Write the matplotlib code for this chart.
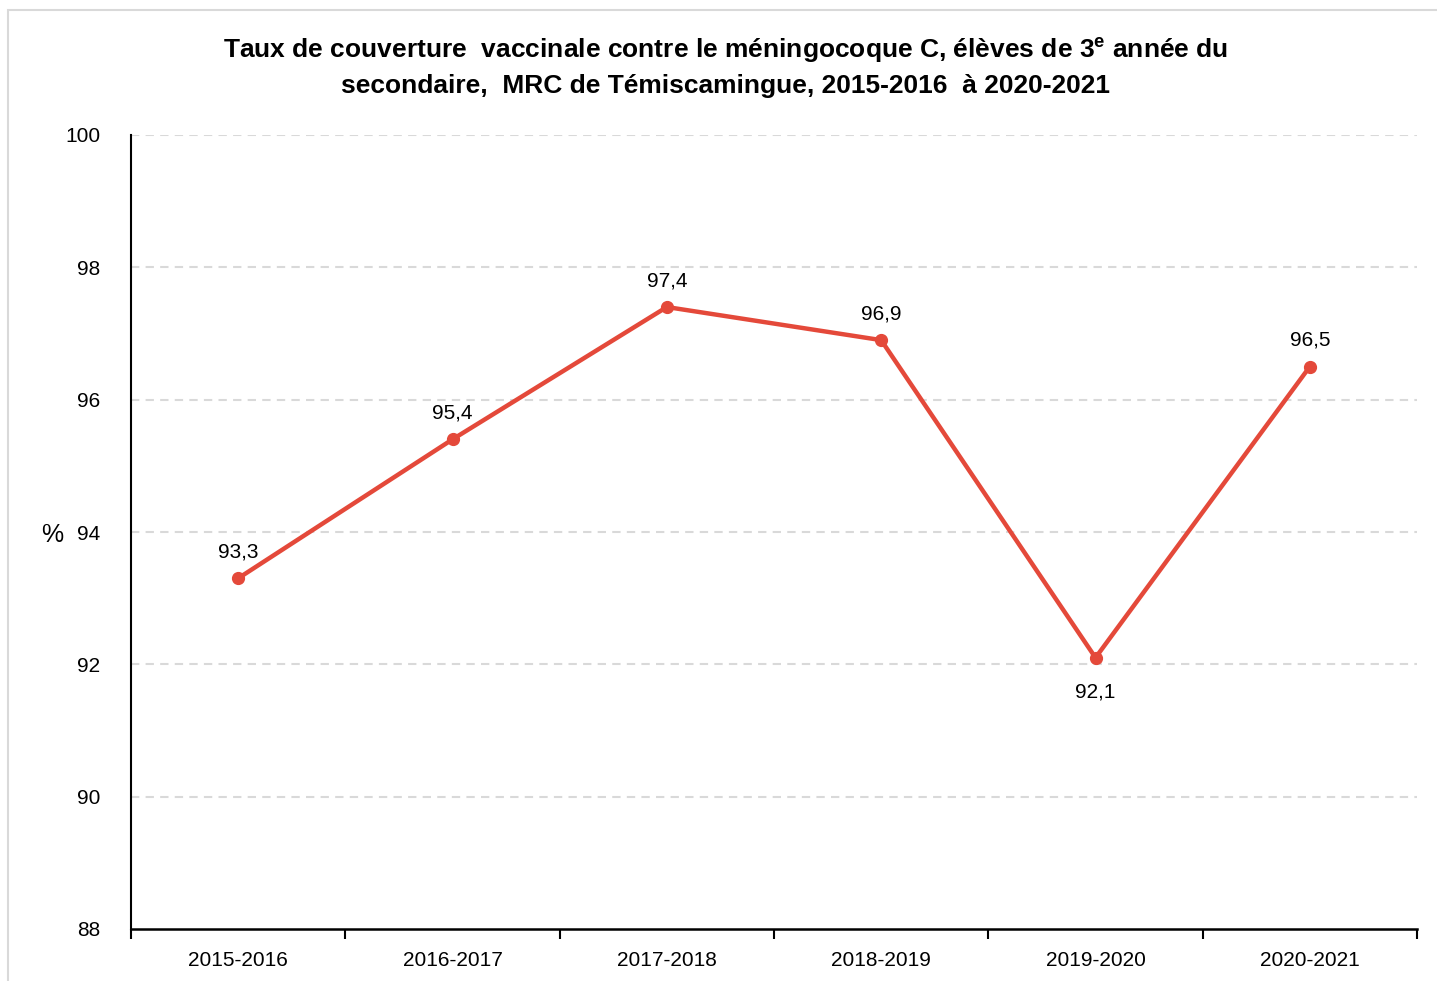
import matplotlib.pyplot as plt
import matplotlib.patches as mpatches
from matplotlib import font_manager

names = {f.name for f in font_manager.fontManager.ttflist}
font = "Liberation Sans Narrow" if "Liberation Sans Narrow" in names else "Liberation Sans"
plt.rcParams["font.family"] = [font, "DejaVu Sans"]
plt.rcParams["mathtext.fontset"] = "custom"
plt.rcParams["mathtext.rm"] = font
plt.rcParams["mathtext.bf"] = font + ":bold"

annees = ["2015-2016", "2016-2017", "2017-2018", "2018-2019", "2019-2020", "2020-2021"]
taux = [93.3, 95.4, 97.4, 96.9, 92.1, 96.5]
etiquettes = ["93,3", "95,4", "97,4", "96,9", "92,1", "96,5"]
sous_point = [False, False, False, False, True, False]

fig = plt.figure(figsize=(14.37, 9.81), dpi=100)
ax = fig.add_axes([131 / 1437, 1 - 929 / 981, (1417 - 131) / 1437, (929 - 135) / 981])

# cadre gris (seuls les bords gauche et haut sont visibles)
fig.patches.append(mpatches.Rectangle((8 / 1437, -0.1), 1.2, 1.1 - 10 / 981,
                                      transform=fig.transFigure, fill=False,
                                      edgecolor="#d9d9d9", linewidth=1.5))

x = list(range(len(annees)))
ax.plot(x, taux, color="#e4493a", linewidth=3.2, marker="o", markersize=8.5, zorder=3)

for xi, v, lab, bas in zip(x, taux, etiquettes, sous_point):
    if bas:
        ax.annotate(lab, (xi, v), xytext=(0, -18), textcoords="offset points",
                    ha="center", va="top", fontsize=15)
    else:
        ax.annotate(lab, (xi, v), xytext=(0, 12), textcoords="offset points",
                    ha="center", va="bottom", fontsize=15)

ax.set_xlim(-0.5, len(annees) - 0.5)
ax.set_ylim(88, 100)
ax.set_yticks(range(88, 101, 2))
ax.set_xticks([i + 0.5 for i in range(-1, len(annees))])
ax.set_xticklabels([])
ax.set_xticks(x, minor=True)
ax.set_xticklabels(annees, minor=True)
ax.tick_params(axis="x", which="major", length=7, width=1.5, direction="out")
ax.tick_params(axis="x", which="minor", length=0, pad=16, labelsize=15)
ax.tick_params(axis="y", length=0, pad=22, labelsize=15)

for g in range(90, 101, 2):
    ax.axhline(g, color="#d9d9d9", linestyle=(0, (4, 3)), linewidth=1.5, zorder=0)

for s in ["top", "right"]:
    ax.spines[s].set_visible(False)
ax.spines["left"].set_linewidth(1.5)
ax.spines["bottom"].set_linewidth(1.8)

fig.text(52 / 1437, 1 - 535 / 981, "%", ha="center", va="center", fontsize=18)

fig.text(0.505, 1 - 50 / 981,
         r"Taux de couverture  vaccinale contre le méningocoque C, élèves de 3$^{\mathbf{e}}$ année du",
         ha="center", va="center", fontsize=19, fontweight="bold")
fig.text(0.505, 1 - 86 / 981,
         "secondaire,  MRC de Témiscamingue, 2015-2016  à 2020-2021",
         ha="center", va="center", fontsize=19, fontweight="bold")

fig.savefig("out.png", dpi=100)
